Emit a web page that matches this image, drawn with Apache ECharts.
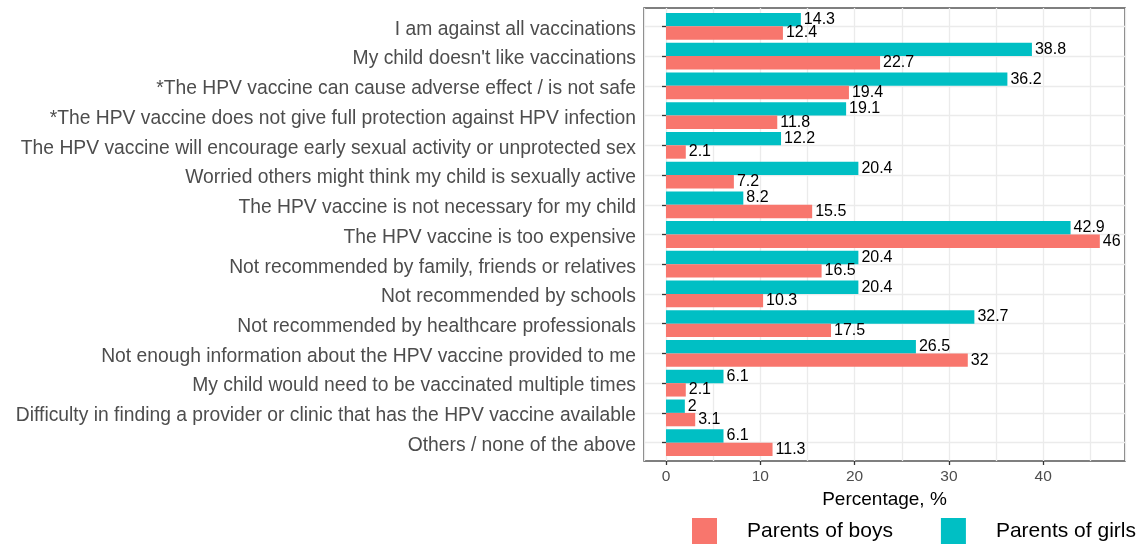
<!DOCTYPE html>
<html>
<head>
<meta charset="utf-8">
<script src="https://cdn.jsdelivr.net/npm/echarts@6/dist/echarts.min.js"></script>
<style>
  html, body { margin: 0; padding: 0; background: #fff; }
  #chart { width: 1144px; height: 551px; }
</style>
</head>
<body>
<div id="chart"></div>
<script>
const categories = [
  'I am against all vaccinations',
  "My child doesn't like vaccinations",
  '*The HPV vaccine can cause adverse effect / is not safe',
  '*The HPV vaccine does not give full protection against HPV infection',
  'The HPV vaccine will encourage early sexual activity or unprotected sex',
  'Worried others might think my child is sexually active',
  'The HPV vaccine is not necessary for my child',
  'The HPV vaccine is too expensive',
  'Not recommended by family, friends or relatives',
  'Not recommended by schools',
  'Not recommended by healthcare professionals',
  'Not enough information about the HPV vaccine provided to me',
  'My child would need to be vaccinated multiple times',
  'Difficulty in finding a provider or clinic that has the HPV vaccine available',
  'Others / none of the above'
];
const girls = [14.3, 38.8, 36.2, 19.1, 12.2, 20.4, 8.2, 42.9, 20.4, 20.4, 32.7, 26.5, 6.1, 2, 6.1];
const boys = [12.4, 22.7, 19.4, 11.8, 2.1, 7.2, 15.5, 46, 16.5, 10.3, 17.5, 32, 2.1, 3.1, 11.3];
const xTicks = [0, 10, 20, 30, 40];

const font = 'Liberation Sans, Arial, sans-serif';
const xMin = -2.33, xMax = 48.67;

const chart = echarts.init(document.getElementById('chart'));

const barLabel = {
  show: true,
  position: 'right',
  distance: 3,
  color: '#000',
  fontSize: 16,
  fontFamily: font
};

chart.setOption({
  animation: false,
  textStyle: { fontFamily: font },
  grid: [
    // panel + vertical grid lines
    { left: 644, top: 8, width: 481, height: 453, show: true, borderColor: '#555', borderWidth: 1.5,
      backgroundColor: 'transparent', outerBoundsMode: 'none', containLabel: false },
    // bars, inset like ggplot's discrete expansion
    { left: 644, top: 11.5, width: 481, height: 446, outerBoundsMode: 'none', containLabel: false }
  ],
  xAxis: [
    {
      // grid lines only
      gridIndex: 0,
      type: 'value',
      position: 'top',
      min: xMin,
      max: xMax,
      splitNumber: 10,
      axisLine: { show: false },
      axisTick: { show: false },
      axisLabel: { show: false },
      splitLine: { show: true, lineStyle: { color: '#ebebeb', width: 1.3 } }
    },
    {
      gridIndex: 0,
      type: 'value',
      position: 'bottom',
      min: xMin,
      max: xMax,
      axisLine: { show: false },
      axisTick: { show: true, length: 4, customValues: xTicks, lineStyle: { color: '#333', width: 1.3 } },
      axisLabel: { customValues: xTicks, fontSize: 15.5, color: '#4d4d4d', margin: 8 },
      splitLine: { show: false },
      name: 'Percentage, %',
      nameLocation: 'middle',
      nameGap: 26,
      nameTextStyle: { fontSize: 19, color: '#000' }
    },
    {
      gridIndex: 1,
      type: 'value',
      min: xMin,
      max: xMax,
      show: false
    }
  ],
  yAxis: [
    { gridIndex: 0, type: 'value', min: 0, max: 1, show: false },
    {
      gridIndex: 1,
      type: 'category',
      inverse: true,
      data: categories,
      axisLine: { show: false },
      axisTick: { show: true, alignWithLabel: true, length: 4, lineStyle: { color: '#333', width: 1.3 } },
      axisLabel: {
        margin: 8,
        interval: 0,
        formatter: '{v|{value}}',
        rich: { v: { fontSize: 19.3, color: '#4d4d4d', fontFamily: font, padding: [6, 0, 0, 0] } }
      },
      splitLine: { show: true, alignWithLabel: true, lineStyle: { color: '#ebebeb', width: 1.3 } }
    }
  ],
  legend: {
    data: ['Parents of boys', 'Parents of girls'],
    left: 687,
    top: 513,
    width: 460,
    icon: 'rect',
    itemWidth: 25,
    itemHeight: 26,
    itemGap: 48,
    textStyle: { fontSize: 21, color: '#000', padding: [0, 0, 0, 25] }
  },
  series: [
    {
      name: 'Parents of girls',
      type: 'bar',
      xAxisIndex: 2,
      yAxisIndex: 1,
      data: girls,
      barGap: '0%',
      barCategoryGap: '10%',
      itemStyle: { color: '#00BFC4' },
      label: barLabel
    },
    {
      name: 'Parents of boys',
      type: 'bar',
      xAxisIndex: 2,
      yAxisIndex: 1,
      data: boys,
      barGap: '0%',
      barCategoryGap: '10%',
      itemStyle: { color: '#F8766D' },
      label: barLabel
    }
  ]
});
</script>
</body>
</html>
